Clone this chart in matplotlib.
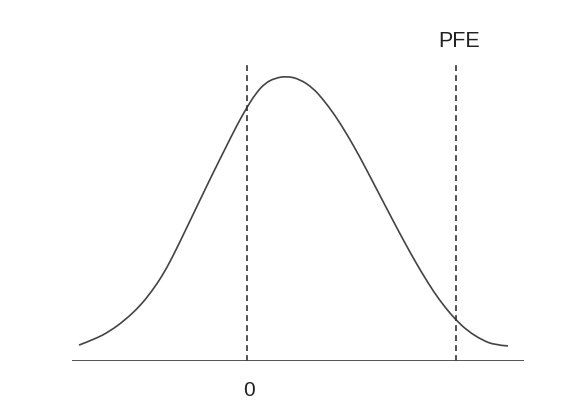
import matplotlib
matplotlib.use("Agg")
import numpy as np
import matplotlib.pyplot as plt
from matplotlib.path import Path
from matplotlib.patches import PathPatch

plt.rcParams["font.family"] = ["Liberation Sans", "DejaVu Sans"]

# 曲线数据（读图估计，横轴单位：0 处为 0，PFE 处为 2）
curve_x = [-1.608, -1.455, -1.311, -1.167, -1.024, -0.909, -0.813, -0.718, -0.574, -0.450,
           -0.325, -0.201, -0.096, 0.000, 0.086, 0.172, 0.268, 0.383, 0.507, 0.632,
           0.727, 0.842, 0.957, 1.081, 1.196, 1.321, 1.435, 1.560, 1.675, 1.789,
           1.895, 2.000, 2.115, 2.249, 2.373, 2.498]
curve_y = [0.056, 0.077, 0.105, 0.144, 0.193, 0.246, 0.298, 0.361, 0.470, 0.565,
           0.660, 0.751, 0.828, 0.891, 0.940, 0.975, 0.993, 1.000, 0.989, 0.958,
           0.919, 0.863, 0.796, 0.716, 0.635, 0.547, 0.467, 0.382, 0.309, 0.242,
           0.189, 0.144, 0.105, 0.074, 0.056, 0.053]

marker_x = [0.0, 2.0]
marker_labels = ["0", "PFE"]

fig = plt.figure(figsize=(5.67, 4.04), dpi=100)
ax = fig.add_axes([0.127, 0.1064, 0.797, 0.7376])

# 用二次贝塞尔把读出的点连成平滑曲线（点作控制点）
pts = np.column_stack([curve_x, curve_y])
verts = [pts[0]]
codes = [Path.MOVETO]
for i in range(1, len(pts) - 1):
    end = pts[-1] if i == len(pts) - 2 else (pts[i] + pts[i + 1]) / 2
    verts += [pts[i], end]
    codes += [Path.CURVE3, Path.CURVE3]
ax.add_patch(PathPatch(Path(verts, codes), fill=False, edgecolor="#444444", lw=1.2))

# 竖直虚线
for xv in marker_x:
    ax.vlines(xv, 0, 1.046, colors="#333333", linestyles=(0, (3.5, 2.5)), lw=1.2)

# 基线
ax.axhline(0, color="#444444", lw=1.3)

ax.set_xlim(-1.675, 2.651)
ax.set_ylim(0, 1.046)

ax.text(marker_x[0] + 0.02, -0.105, marker_labels[0], ha="center", va="center",
        fontsize=15, color="#222222")
ax.text(marker_x[1] + 0.035, 1.12, marker_labels[1], ha="center", va="center",
        fontsize=15.5, color="#222222")

ax.axis("off")
fig.savefig("out.png", dpi=100)
